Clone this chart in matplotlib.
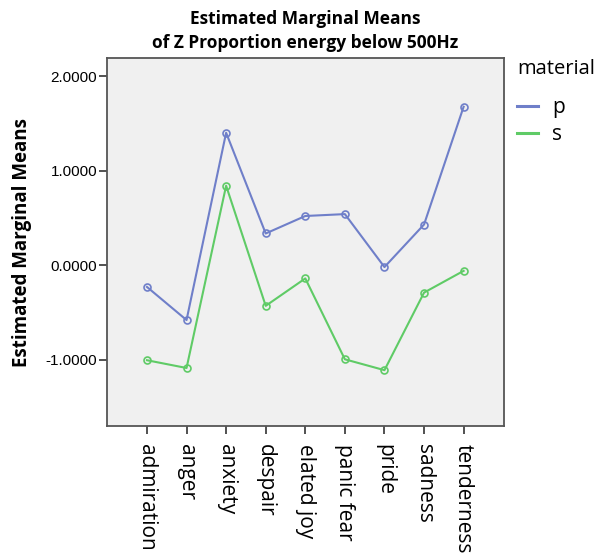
import matplotlib
matplotlib.use("Agg")
import matplotlib.pyplot as plt

categories = ["admiration", "anger", "anxiety", "despair", "elated joy",
              "panic fear", "pride", "sadness", "tenderness"]
p_values = [-0.23, -0.58, 1.40, 0.335, 0.52, 0.54, -0.02, 0.43, 1.675]
s_values = [-1.005, -1.087, 0.84, -0.43, -0.14, -0.995, -1.11, -0.29, -0.06]
yticks = [-1.0, 0.0, 1.0, 2.0]
ytick_labels = ["-1.0000", "0.0000", "1.0000", "2.0000"]

fig = plt.figure(figsize=(6.01, 5.58), dpi=100)
ax = fig.add_axes([0.178, 0.2366, 0.6606, 0.6594])
ax.set_facecolor("#f0f0f0")

x = list(range(len(categories)))
blue = "#6f7fc9"
green = "#5fcb66"
ax.plot(x, p_values, color=blue, lw=1.5, marker="o", ms=5, mfc="none", mec=blue, mew=1.2, label="p")
ax.plot(x, s_values, color=green, lw=1.5, marker="o", ms=5, mfc="none", mec=green, mew=1.2, label="s")

ax.set_xlim(-1.01, 9.02)
ax.set_ylim(-1.70, 2.19)
ax.set_xticks(x)
ax.set_xticklabels(categories, rotation=270, fontsize=15, family="Open Sans")
ax.set_yticks(yticks)
ax.set_yticklabels(ytick_labels, fontsize=11, family="Liberation Sans")
ax.tick_params(axis="y", direction="out", length=6, width=1.2, color="#333333", pad=1)
ax.tick_params(axis="x", direction="out", length=6, width=1.2, color="#333333", pad=7)
for sp in ax.spines.values():
    sp.set_color("#555555")
    sp.set_linewidth(1.3)

ax.set_ylabel("Estimated Marginal Means", fontsize=13.5, fontweight="bold", family="Open Sans", labelpad=10)
fig.text(0.508, 0.982, "Estimated Marginal Means\nof Z Proportion energy below 500Hz",
         ha="center", va="top", fontsize=12.5, fontweight="bold", family="Open Sans", linespacing=1.45)

leg = fig.legend(loc="upper left", bbox_to_anchor=(0.86, 0.894), frameon=False, title="material",
                 prop={"family": "Open Sans", "size": 15}, handlelength=1.0, handletextpad=0.7,
                 labelspacing=0.3, borderpad=0, alignment="left", borderaxespad=0)
leg.get_title().set_fontsize(14.5)
leg.get_title().set_family("Open Sans")
leg._legend_box.sep = 13
for line in leg.get_lines():
    line.set_marker("")
    line.set_linewidth(2.2)

fig.savefig("out.png", dpi=100)
